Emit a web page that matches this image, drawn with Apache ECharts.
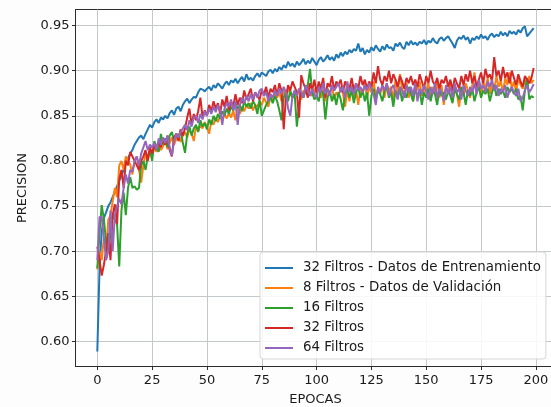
<!DOCTYPE html>
<html>
<head>
<meta charset="utf-8">
<script src="https://cdn.jsdelivr.net/npm/echarts@6/dist/echarts.min.js"></script>
<style>
  html, body { margin: 0; padding: 0; background: #fdfdfe; }
  #main { width: 551px; height: 407px; }
</style>
</head>
<body>
<div id="main"></div>
<script>
// epochs 0..199
var epochs = [];
for (var i = 0; i < 200; i++) epochs.push(i);

var xTicks = [0, 25, 50, 75, 100, 125, 150, 175, 200];
var yTicks = [0.60, 0.65, 0.70, 0.75, 0.80, 0.85, 0.90, 0.95];

var seriesNames = [
  "32 Filtros - Datos de Entrenamiento",
  "8 Filtros - Datos de Validación",
  "16 Filtros",
  "32 Filtros",
  "64 Filtros"
];

var train32 = [
  0.589, 0.680, 0.722, 0.737, 0.743, 0.750, 0.754, 0.760, 0.766, 0.772,
  0.778, 0.784, 0.790, 0.797, 0.803, 0.808, 0.812, 0.818, 0.822, 0.826,
  0.828, 0.824, 0.830, 0.835, 0.840, 0.837, 0.843, 0.846, 0.842, 0.848,
  0.846, 0.850, 0.847, 0.853, 0.856, 0.851, 0.858, 0.860, 0.855, 0.862,
  0.866, 0.869, 0.864, 0.868, 0.871, 0.870, 0.876, 0.880, 0.879, 0.877,
  0.880, 0.882, 0.878, 0.884, 0.881, 0.886, 0.883, 0.880, 0.885, 0.888,
  0.884, 0.889, 0.887, 0.891, 0.886, 0.890, 0.893, 0.888, 0.896, 0.890,
  0.892, 0.889, 0.894, 0.897, 0.893, 0.898, 0.896, 0.894, 0.899, 0.901,
  0.897, 0.902, 0.899, 0.904, 0.901, 0.906, 0.903, 0.910, 0.905, 0.908,
  0.904, 0.910, 0.906, 0.909, 0.913, 0.907, 0.911, 0.908, 0.914, 0.910,
  0.906, 0.912, 0.915, 0.910, 0.913, 0.917, 0.912, 0.915, 0.911, 0.918,
  0.914, 0.920, 0.916, 0.921, 0.918, 0.923, 0.920, 0.924, 0.922, 0.930,
  0.921, 0.925, 0.918, 0.923, 0.920, 0.926, 0.922, 0.928, 0.924, 0.921,
  0.927, 0.923, 0.929, 0.925, 0.926, 0.922, 0.930, 0.927, 0.931, 0.926,
  0.924, 0.932, 0.928, 0.933, 0.929, 0.931, 0.928, 0.932, 0.930, 0.934,
  0.929, 0.933, 0.931, 0.936, 0.932, 0.930, 0.935, 0.937, 0.933, 0.936,
  0.938, 0.934, 0.930, 0.925, 0.933, 0.937, 0.935, 0.939, 0.934, 0.937,
  0.930, 0.936, 0.934, 0.938, 0.935, 0.940, 0.936, 0.938, 0.934, 0.939,
  0.941, 0.937, 0.940, 0.938, 0.943, 0.939, 0.942, 0.938, 0.944, 0.941,
  0.943, 0.940, 0.945, 0.942, 0.947, 0.949, 0.938, 0.941, 0.944, 0.947
];

var val8 = [
  0.680, 0.700, 0.690, 0.715, 0.700, 0.735, 0.740, 0.755, 0.770, 0.760,
  0.795, 0.800, 0.790, 0.805, 0.800, 0.796, 0.785, 0.800, 0.805, 0.790,
  0.776, 0.795, 0.808, 0.800, 0.812, 0.806, 0.815, 0.810, 0.818, 0.812,
  0.816, 0.822, 0.813, 0.820, 0.826, 0.818, 0.824, 0.830, 0.821, 0.828,
  0.832, 0.826, 0.835, 0.830, 0.822, 0.838, 0.833, 0.840, 0.836, 0.843,
  0.838, 0.830, 0.845, 0.840, 0.848, 0.843, 0.850, 0.845, 0.852, 0.847,
  0.853, 0.848, 0.856, 0.845, 0.858, 0.852, 0.860, 0.855, 0.862, 0.858,
  0.864, 0.856, 0.862, 0.860, 0.866, 0.862, 0.870, 0.865, 0.860, 0.872,
  0.868, 0.874, 0.870, 0.876, 0.866, 0.878, 0.872, 0.880, 0.874, 0.870,
  0.876, 0.872, 0.880, 0.868, 0.878, 0.874, 0.884, 0.876, 0.872, 0.880,
  0.875, 0.882, 0.870, 0.878, 0.866, 0.880, 0.874, 0.884, 0.868, 0.876,
  0.872, 0.882, 0.875, 0.860, 0.878, 0.866, 0.884, 0.870, 0.878, 0.862,
  0.880, 0.874, 0.886, 0.870, 0.882, 0.876, 0.888, 0.872, 0.880, 0.874,
  0.884, 0.870, 0.886, 0.878, 0.882, 0.868, 0.890, 0.876, 0.896, 0.880,
  0.874, 0.886, 0.870, 0.882, 0.866, 0.884, 0.878, 0.888, 0.872, 0.880,
  0.876, 0.886, 0.868, 0.882, 0.874, 0.888, 0.870, 0.884, 0.862, 0.880,
  0.876, 0.888, 0.866, 0.882, 0.874, 0.860, 0.880, 0.872, 0.886, 0.878,
  0.870, 0.884, 0.898, 0.876, 0.886, 0.872, 0.888, 0.880, 0.892, 0.874,
  0.886, 0.878, 0.894, 0.882, 0.888, 0.876, 0.892, 0.884, 0.898, 0.880,
  0.888, 0.876, 0.892, 0.884, 0.880, 0.890, 0.882, 0.894, 0.886, 0.890
];

var val16 = [
  0.681, 0.720, 0.751, 0.735, 0.710, 0.700, 0.720, 0.740, 0.735, 0.730,
  0.683, 0.745, 0.765, 0.740, 0.770, 0.782, 0.770, 0.772, 0.768, 0.770,
  0.795, 0.800, 0.790, 0.805, 0.812, 0.800, 0.822, 0.815, 0.810, 0.830,
  0.818, 0.825, 0.815, 0.828, 0.832, 0.822, 0.830, 0.826, 0.834, 0.820,
  0.809, 0.830, 0.838, 0.828, 0.836, 0.840, 0.832, 0.845, 0.838, 0.842,
  0.835, 0.846, 0.840, 0.850, 0.844, 0.852, 0.847, 0.855, 0.850, 0.858,
  0.852, 0.860, 0.856, 0.864, 0.858, 0.862, 0.855, 0.866, 0.860, 0.864,
  0.858, 0.866, 0.862, 0.852, 0.868, 0.850, 0.856, 0.862, 0.866, 0.870,
  0.864, 0.872, 0.866, 0.856, 0.845, 0.870, 0.876, 0.866, 0.878, 0.870,
  0.874, 0.838, 0.862, 0.876, 0.870, 0.880, 0.884, 0.902, 0.876, 0.868,
  0.872, 0.866, 0.880, 0.874, 0.846, 0.870, 0.878, 0.866, 0.874, 0.862,
  0.876, 0.868, 0.856, 0.874, 0.880, 0.870, 0.878, 0.864, 0.876, 0.882,
  0.870, 0.878, 0.866, 0.876, 0.850, 0.872, 0.880, 0.868, 0.878, 0.874,
  0.866, 0.878, 0.882, 0.870, 0.876, 0.860, 0.878, 0.872, 0.880, 0.866,
  0.876, 0.870, 0.882, 0.874, 0.866, 0.880, 0.872, 0.878, 0.862, 0.876,
  0.870, 0.880, 0.866, 0.878, 0.874, 0.862, 0.880, 0.872, 0.876, 0.868,
  0.878, 0.872, 0.864, 0.880, 0.874, 0.868, 0.882, 0.876, 0.862, 0.878,
  0.872, 0.880, 0.866, 0.876, 0.882, 0.870, 0.878, 0.874, 0.880, 0.866,
  0.876, 0.884, 0.872, 0.880, 0.874, 0.878, 0.870, 0.882, 0.876, 0.880,
  0.874, 0.880, 0.868, 0.872, 0.856, 0.878, 0.892, 0.868, 0.872, 0.870
];

var val32 = [
  0.705, 0.690, 0.673, 0.685, 0.700, 0.720, 0.690, 0.740, 0.752, 0.730,
  0.780, 0.790, 0.770, 0.800, 0.795, 0.810, 0.805, 0.800, 0.795, 0.790,
  0.800, 0.805, 0.812, 0.800, 0.815, 0.808, 0.818, 0.812, 0.822, 0.815,
  0.825, 0.818, 0.828, 0.812, 0.805, 0.826, 0.830, 0.822, 0.835, 0.828,
  0.836, 0.848, 0.858, 0.840, 0.852, 0.845, 0.855, 0.870, 0.848, 0.856,
  0.850, 0.862, 0.855, 0.866, 0.858, 0.864, 0.852, 0.868, 0.860, 0.872,
  0.856, 0.866, 0.860, 0.874, 0.862, 0.870, 0.864, 0.878, 0.868, 0.874,
  0.880, 0.866, 0.876, 0.872, 0.868, 0.878, 0.874, 0.882, 0.870, 0.880,
  0.876, 0.884, 0.872, 0.886, 0.878, 0.835, 0.870, 0.884, 0.878, 0.888,
  0.882, 0.876, 0.848, 0.895, 0.886, 0.880, 0.870, 0.886, 0.878, 0.890,
  0.875, 0.888, 0.880, 0.892, 0.870, 0.886, 0.882, 0.894, 0.878, 0.888,
  0.884, 0.890, 0.876, 0.888, 0.882, 0.880, 0.892, 0.878, 0.886, 0.880,
  0.894, 0.884, 0.890, 0.880, 0.888, 0.882, 0.898, 0.886, 0.905, 0.890,
  0.884, 0.894, 0.888, 0.900, 0.886, 0.896, 0.890, 0.882, 0.894, 0.888,
  0.880, 0.892, 0.886, 0.894, 0.884, 0.890, 0.882, 0.896, 0.888, 0.880,
  0.894, 0.886, 0.900, 0.888, 0.884, 0.892, 0.880, 0.890, 0.886, 0.894,
  0.882, 0.890, 0.878, 0.892, 0.886, 0.880, 0.894, 0.884, 0.896, 0.888,
  0.900, 0.886, 0.894, 0.882, 0.890, 0.898, 0.886, 0.902, 0.892, 0.896,
  0.888, 0.915, 0.894, 0.900, 0.888, 0.904, 0.892, 0.898, 0.886, 0.900,
  0.892, 0.884, 0.896, 0.888, 0.882, 0.894, 0.890, 0.886, 0.892, 0.903
];

var val64 = [
  0.690, 0.738, 0.738, 0.715, 0.690, 0.700, 0.745, 0.700, 0.740, 0.750,
  0.758, 0.752, 0.770, 0.785, 0.775, 0.790, 0.788, 0.800, 0.805, 0.795,
  0.808, 0.815, 0.822, 0.812, 0.818, 0.815, 0.820, 0.812, 0.825, 0.818,
  0.826, 0.820, 0.828, 0.815, 0.806, 0.822, 0.830, 0.826, 0.832, 0.836,
  0.840, 0.834, 0.845, 0.838, 0.848, 0.850, 0.842, 0.852, 0.846, 0.855,
  0.850, 0.858, 0.852, 0.860, 0.854, 0.862, 0.856, 0.840, 0.858, 0.864,
  0.860, 0.868, 0.856, 0.866, 0.840, 0.862, 0.870, 0.864, 0.872, 0.866,
  0.874, 0.868, 0.876, 0.870, 0.878, 0.880, 0.872, 0.876, 0.866, 0.874,
  0.870, 0.878, 0.872, 0.880, 0.874, 0.882, 0.876, 0.858, 0.850, 0.872,
  0.878, 0.872, 0.880, 0.876, 0.870, 0.884, 0.878, 0.872, 0.880, 0.874,
  0.870, 0.882, 0.876, 0.886, 0.874, 0.880, 0.872, 0.884, 0.878, 0.882,
  0.886, 0.876, 0.882, 0.870, 0.888, 0.876, 0.882, 0.874, 0.886, 0.878,
  0.882, 0.876, 0.884, 0.878, 0.886, 0.880, 0.874, 0.862, 0.882, 0.876,
  0.884, 0.878, 0.886, 0.872, 0.880, 0.884, 0.876, 0.868, 0.882, 0.878,
  0.870, 0.884, 0.876, 0.882, 0.872, 0.886, 0.866, 0.880, 0.874, 0.884,
  0.878, 0.868, 0.882, 0.874, 0.886, 0.870, 0.880, 0.876, 0.866, 0.884,
  0.874, 0.882, 0.870, 0.886, 0.876, 0.880, 0.868, 0.884, 0.878, 0.872,
  0.882, 0.876, 0.886, 0.874, 0.890, 0.880, 0.884, 0.876, 0.888, 0.882,
  0.890, 0.878, 0.884, 0.872, 0.880, 0.876, 0.884, 0.870, 0.878, 0.882,
  0.876, 0.872, 0.880, 0.866, 0.870, 0.878, 0.884, 0.876, 0.880, 0.885
];

var colors = ["#1f77b4", "#ff7f0e", "#2ca02c", "#d62728", "#9467bd"];
var allData = [train32, val8, val16, val32, val64];

function pairs(arr) {
  return arr.map(function (v, i) { return [epochs[i], v]; });
}

var myChart = echarts.init(document.getElementById("main"));
var font = "DejaVu Sans";

myChart.setOption({
  backgroundColor: "#fdfdfe",
  animation: false,
  color: colors,
  grid: {
    left: 75.5,
    width: 480,
    top: 9.5,
    bottom: 40.5,
    outerBoundsMode: "none",
    containLabel: false,
    show: true,
    backgroundColor: "#ffffff",
    borderColor: "#2b2b2b",
    borderWidth: 1
  },
  legend: {
    orient: "vertical",
    left: 260,
    top: 252,
    padding: [9, 5, 4, 5],
    itemGap: 6,
    itemWidth: 28,
    itemHeight: 2,
    icon: "rect",
    backgroundColor: "rgba(255,255,255,0.85)",
    borderColor: "#d6d6d6",
    borderWidth: 1,
    borderRadius: 3,
    textStyle: {
      fontFamily: font,
      fontSize: 13.4,
      lineHeight: 14,
      color: "#1a1a1a",
      padding: [0, 0, 0, 5]
    },
    data: seriesNames
  },
  xAxis: {
    type: "value",
    min: -9.95,
    max: 208.95,
    name: "EPOCAS",
    nameLocation: "middle",
    nameGap: 27,
    nameTextStyle: { fontFamily: font, fontSize: 13, color: "#1a1a1a" },
    axisLine: { show: true, onZero: false, lineStyle: { color: "#2b2b2b", width: 1 } },
    axisTick: { show: true, length: 3.5, customValues: xTicks, lineStyle: { color: "#2b2b2b" } },
    axisLabel: { customValues: xTicks, margin: 8, fontFamily: font, fontSize: 13, color: "#1a1a1a" },
    splitLine: { show: true, lineStyle: { color: "#c3c8cc", width: 1 } }
  },
  yAxis: {
    type: "value",
    min: 0.5723,
    max: 0.9677,
    name: "PRECISION",
    nameLocation: "middle",
    nameRotate: 90,
    nameGap: 46,
    nameTextStyle: { fontFamily: font, fontSize: 13, color: "#1a1a1a" },
    axisLine: { show: true, onZero: false, lineStyle: { color: "#2b2b2b", width: 1 } },
    axisTick: { show: true, length: 3.5, customValues: yTicks, lineStyle: { color: "#2b2b2b" } },
    axisLabel: {
      customValues: yTicks,
      margin: 6,
      fontFamily: font,
      fontSize: 13,
      color: "#1a1a1a",
      formatter: function (v) { return v.toFixed(2); }
    },
    splitLine: { show: true, lineStyle: { color: "#c3c8cc", width: 1 } }
  },
  series: seriesNames.map(function (name, k) {
    return {
      name: name,
      type: "line",
      data: pairs(allData[k]),
      symbol: "none",
      lineStyle: { width: 2, color: colors[k] },
      itemStyle: { color: colors[k] }
    };
  })
});
</script>
</body>
</html>
